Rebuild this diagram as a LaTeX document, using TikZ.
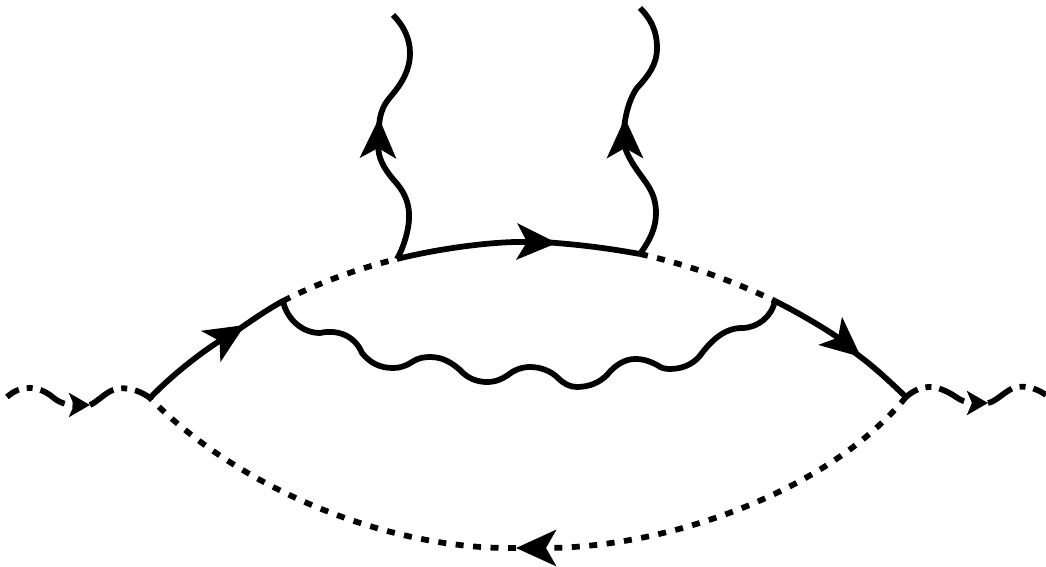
\documentclass[tikz,border=0pt]{standalone}
\usetikzlibrary{arrows.meta}
\tikzset{
  fermion/.style={line width=0.115cm},
  fermionb/.style={line width=0.115cm, shorten <=-0.25cm},
  scalar/.style={line width=0.115cm, dash pattern=on 0.16cm off 0.19cm},
  ghost/.style={line width=0.115cm, dash pattern=on 0.56cm off 0.16cm on 0.12cm off 0.16cm, dash phase=0.28cm},
  ghostb/.style={line width=0.115cm, dash pattern=on 0.56cm off 0.16cm on 0.12cm off 0.16cm},
  bigtip/.style={-{Stealth[length=0.8cm,width=0.72cm,inset=0.2cm]}},
  smalltip/.style={-{Stealth[length=0.42cm,width=0.48cm,inset=0.1cm]}}
}
\begin{document}
\begin{tikzpicture}[x=0.02cm, y=-0.02cm]
  \useasboundingbox (0,0) rectangle (1046,567);
  % vertices
  \coordinate (inl) at (7,397);
  \coordinate (v1) at (150,398);
  \coordinate (a) at (283,301);
  \coordinate (b) at (397,259);
  \coordinate (c) at (640,254);
  \coordinate (d) at (775,301);
  \coordinate (v2) at (906,397);
  \coordinate (outr) at (1046,395);
  \coordinate (ta) at (245,325);
  \coordinate (tb) at (557,243);
  \coordinate (tc) at (861,357);
  \coordinate (td) at (516,548);
  \coordinate (te) at (379,118);
  \coordinate (tf) at (625,118);
  \coordinate (tg) at (90,405);
  \coordinate (th) at (988,403);
  \coordinate (topl) at (393,15);
  \coordinate (topr) at (640,8);
  % main line
  \draw[fermion,bigtip] (v1) .. controls (175,372) and (205,350) .. (ta);
  \draw[fermionb] (ta) .. controls (255,318) and (270,308) .. (a);
  \draw[scalar] (a) .. controls (320,282) and (360,268) .. (b);
  \draw[fermion,bigtip] (b) .. controls (445,247) and (500,241) .. (tb);
  \draw[fermionb] (tb) .. controls (585,245) and (612,249) .. (c);
  \draw[scalar] (c) .. controls (690,265) and (735,282) .. (d);
  \draw[fermion,bigtip] (d) .. controls (805,316) and (835,335) .. (tc);
  \draw[fermionb] (tc) .. controls (875,367) and (890,382) .. (v2);
  % lower line
  \draw[scalar,bigtip] (v2) .. controls (830,490) and (670,548) .. (td);
  \draw[scalar] (td) .. controls (390,550) and (240,490) .. (v1);
  % external lines
  \draw[ghost,smalltip] (inl) .. controls (15,390) and (22,388) .. (29,388) .. controls (38,388) and (44,391) .. (50,395) .. controls (56,400) and (62,405) .. (tg);
  \draw[ghostb] (tg) .. controls (97,402) and (105,393) .. (113,390) .. controls (120,387) and (135,387) .. (v1);
  \draw[ghost,smalltip] (v2) .. controls (914,390) and (922,387) .. (930,387) .. controls (938,387) and (946,391) .. (953,395) .. controls (960,400) and (966,403) .. (th);
  \draw[ghostb] (th) .. controls (995,402) and (1003,393) .. (1013,388) .. controls (1022,385) and (1035,387) .. (outr);
  % photons
  \draw[fermion,bigtip] (b) .. controls (405,245) and (410,225) .. (409,213) .. controls (408,195) and (398,185) .. (392,178) .. controls (384,168) and (378,158) .. (te);
  \draw[fermionb] (te) .. controls (379,110) and (386,102) .. (392,95) .. controls (402,83) and (410,70) .. (410,53) .. controls (410,38) and (403,25) .. (topl);
  \draw[fermion,bigtip] (c) .. controls (650,240) and (656,228) .. (656,213) .. controls (656,192) and (645,182) .. (637,170) .. controls (630,160) and (625,150) .. (tf);
  \draw[fermionb] (tf) .. controls (626,108) and (632,95) .. (637,88) .. controls (648,76) and (657,65) .. (657,48) .. controls (657,30) and (650,18) .. (topr);
  \draw[fermion] (a) .. controls (287,320) and (303,333) .. (320,333) .. controls (338,329) and (355,336) .. (362,353) .. controls (370,363) and (380,368) .. (393,368) .. controls (400,368) and (406,366) .. (412,362) .. controls (418,358) and (424,357) .. (430,357) .. controls (443,357) and (452,363) .. (460,370) .. controls (468,379) and (478,382) .. (487,382) .. controls (496,382) and (502,379) .. (508,375) .. controls (514,370) and (522,367) .. (530,367) .. controls (542,367) and (552,372) .. (558,378) .. controls (564,384) and (570,387) .. (577,387) .. controls (590,387) and (600,382) .. (607,375) .. controls (615,365) and (625,359) .. (635,359) .. controls (645,359) and (651,362) .. (657,365) .. controls (661,368) and (665,369) .. (670,369) .. controls (685,369) and (696,362) .. (702,353) .. controls (712,340) and (725,328) .. (742,328) .. controls (758,328) and (772,316) .. (d);
\end{tikzpicture}
\end{document}
